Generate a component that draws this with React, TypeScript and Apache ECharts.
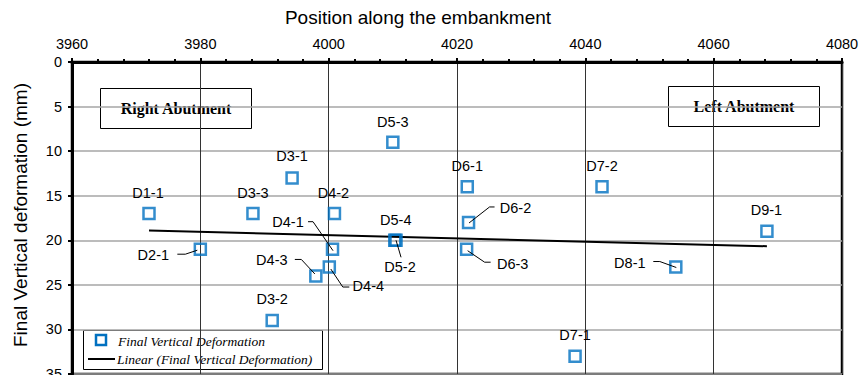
import React, { useEffect, useRef } from "react";
import * as echarts from "echarts";

// Survey points along the embankment
const pointNames = [
  "D1-1", "D2-1", "D3-3", "D3-1", "D3-2", "D4-3", "D4-4", "D4-1", "D4-2",
  "D5-3", "D5-4", "D5-2", "D6-1", "D6-2", "D6-3", "D7-1", "D7-2", "D8-1", "D9-1",
];
const positions = [
  3972, 3980, 3988.2, 3994.3, 3991.2, 3998, 4000.1, 4000.6, 4000.9,
  4010, 4010.3, 4010.5, 4021.6, 4021.8, 4021.5, 4038.4, 4042.6, 4054.1, 4068.3,
];
const deformations = [
  17, 21, 17, 13, 29, 24, 23, 21, 17,
  9, 20, 20, 14, 18, 21, 33, 14, 23, 19,
];
const xTicks = { min: 3960, max: 4080, step: 20 };
const yTicks = { min: 0, max: 35, step: 5 };

// Label placement (pixel offsets from the marker centre) and leader lines
type LabelPlacement = { dx: number; dy: number; leader?: number[][] };
const labelPlacement: Record<string, LabelPlacement> = {
  "D1-1": { dx: -1, dy: -21 },
  "D2-1": { dx: -47, dy: 6, leader: [[-23, 5], [-15, 5], [-3, 1]] },
  "D3-3": { dx: 0, dy: -21 },
  "D3-1": { dx: 0, dy: -21.5 },
  "D3-2": { dx: 0, dy: -21.5 },
  "D4-3": { dx: -44, dy: -16, leader: [[-21, -16.5], [-14.5, -16.5], [-1, -2]] },
  "D4-4": { dx: 39, dy: 19, leader: [[1.5, 2], [13.5, 20], [20, 20]] },
  "D4-1": { dx: -44.5, dy: -27, leader: [[-24.5, -27.5], [-19.5, -27.5], [0.5, 1.5]] },
  "D4-2": { dx: -1, dy: -21 },
  "D5-3": { dx: 0, dy: -20.5 },
  "D5-4": { dx: 1, dy: -20 },
  "D5-2": { dx: 4, dy: 27, leader: [[0, 0], [5, 17]] },
  "D6-1": { dx: 0, dy: -20.5 },
  "D6-2": { dx: 47, dy: -14, leader: [[0.5, 0.5], [21, -15.5], [26, -15.5]] },
  "D6-3": { dx: 46, dy: 14.5, leader: [[1, 1.5], [18, 13], [24, 13]] },
  "D7-1": { dx: 0, dy: -21.5 },
  "D7-2": { dx: 0, dy: -20.5 },
  "D8-1": { dx: -46, dy: -4, leader: [[-22.5, -5.5], [-16, -5.5], [0.5, 0.5]] },
  "D9-1": { dx: -0.5, dy: -21.5 },
};

const SANS = "'Liberation Sans', Arial, sans-serif";
const SERIF = "'Liberation Serif', 'Times New Roman', serif";
const BLUE = "#0070C0";

// Least-squares linear trend of the deformations
function linearTrend(xs: number[], ys: number[]) {
  const n = xs.length;
  const mx = xs.reduce((a, b) => a + b, 0) / n;
  const my = ys.reduce((a, b) => a + b, 0) / n;
  let sxy = 0;
  let sxx = 0;
  for (let i = 0; i < n; i++) {
    sxy += (xs[i] - mx) * (ys[i] - my);
    sxx += (xs[i] - mx) * (xs[i] - mx);
  }
  const slope = sxy / sxx;
  const x0 = Math.min(...xs);
  const x1 = Math.max(...xs);
  return [
    [x0, my + slope * (x0 - mx)],
    [x1, my + slope * (x1 - mx)],
  ];
}

export default function App() {
  const ref = useRef<HTMLDivElement>(null);

  useEffect(() => {
    if (!ref.current) return;
    const chart = echarts.init(ref.current, undefined, { renderer: "svg" });

    const points = positions.map((x, i) => [x, deformations[i]]);
    const trend = linearTrend(positions, deformations);

    const option: any = {
      animation: false,
      backgroundColor: "#fff",
      grid: {
        left: 72,
        top: 62,
        width: 770,
        height: 312,
        outerBoundsMode: "none",
        containLabel: false,
        show: true,
        borderColor: "#000",
        borderWidth: 2.5,
        backgroundColor: "transparent",
      },
      xAxis: {
        type: "value",
        position: "top",
        min: xTicks.min,
        max: xTicks.max,
        interval: xTicks.step,
        axisLine: { show: true, onZero: false, lineStyle: { color: "#000", width: 3 } },
        axisTick: { show: true, length: 4, lineStyle: { color: "#000", width: 2 } },
        minorTick: { show: true, splitNumber: 5, length: 3, lineStyle: { color: "#000", width: 2 } },
        axisLabel: {
          fontSize: 14.5,
          color: "#000",
          fontFamily: SANS,
          margin: 11,
          formatter: (v: number) => String(v),
        },
        splitLine: { show: true, lineStyle: { color: "#333", width: 1 } },
      },
      yAxis: {
        type: "value",
        inverse: true,
        min: yTicks.min,
        max: yTicks.max,
        interval: yTicks.step,
        axisLine: { show: true, onZero: false, lineStyle: { color: "#000", width: 3 } },
        axisTick: { show: true, length: 4, lineStyle: { color: "#000", width: 2 } },
        axisLabel: {
          fontSize: 14.5,
          color: "#000",
          fontFamily: SANS,
          margin: 10,
          formatter: (v: number) => String(v),
        },
        splitLine: { show: true, lineStyle: { color: "#a6a6a6", width: 1.5 } },
      },
      series: [
        {
          name: "Linear (Final Vertical Deformation)",
          type: "line",
          data: trend,
          showSymbol: false,
          lineStyle: { color: "#000", width: 2 },
          z: 3,
          silent: true,
        },
        {
          name: "Final Vertical Deformation",
          type: "scatter",
          data: points,
          symbol: "rect",
          symbolSize: 11,
          itemStyle: { color: "rgba(255,255,255,0)", borderColor: BLUE, borderWidth: 2.5 },
          z: 4,
          silent: true,
        },
        {
          name: "labels",
          type: "custom",
          data: points,
          encode: { x: 0, y: 1 },
          clip: false,
          z: 5,
          silent: true,
          renderItem: (params: any, api: any) => {
            const i = params.dataIndex;
            const name = pointNames[i];
            const place = labelPlacement[name] || { dx: 0, dy: -21 };
            const c = api.coord([api.value(0), api.value(1)]);
            const children: any[] = [
              {
                type: "text",
                x: c[0] + place.dx,
                y: c[1] + place.dy,
                style: {
                  text: name,
                  fill: "#000",
                  fontSize: 14.5,
                  fontFamily: SANS,
                  textAlign: "center",
                  textVerticalAlign: "middle",
                },
              },
            ];
            if (place.leader) {
              children.push({
                type: "polyline",
                shape: { points: place.leader.map((p) => [c[0] + p[0], c[1] + p[1]]) },
                style: { stroke: "#000", lineWidth: 1, fill: null },
              });
            }
            return { type: "group", children };
          },
        },
      ],
      graphic: [
        // Axis titles
        {
          type: "text",
          x: 418,
          y: 17,
          style: {
            text: "Position along the embankment",
            fontSize: 19,
            fontFamily: SANS,
            fill: "#000",
            textAlign: "center",
            textVerticalAlign: "middle",
          },
        },
        {
          type: "text",
          x: 20,
          y: 215,
          rotation: Math.PI / 2,
          style: {
            text: "Final Vertical deformation (mm)",
            fontSize: 19,
            fontFamily: SANS,
            fill: "#000",
            textAlign: "center",
            textVerticalAlign: "middle",
          },
        },
        // Abutment boxes
        {
          type: "group",
          z: 10,
          children: [
            {
              type: "rect",
              shape: { x: 100.5, y: 88.5, width: 151, height: 40 },
              style: { fill: "#fff", stroke: "#000", lineWidth: 1 },
            },
            {
              type: "text",
              x: 176,
              y: 108.5,
              style: {
                text: "Right Abutment",
                fontSize: 16,
                fontWeight: "bold",
                fontFamily: SERIF,
                fill: "#000",
                textAlign: "center",
                textVerticalAlign: "middle",
              },
            },
            {
              type: "rect",
              shape: { x: 668.5, y: 86.5, width: 151, height: 40 },
              style: { fill: "#fff", stroke: "#000", lineWidth: 1 },
            },
            {
              type: "text",
              x: 744,
              y: 106.5,
              style: {
                text: "Left Abutment",
                fontSize: 16,
                fontWeight: "bold",
                fontFamily: SERIF,
                fill: "#000",
                textAlign: "center",
                textVerticalAlign: "middle",
              },
            },
          ],
        },
        // Legend
        {
          type: "group",
          z: 10,
          children: [
            {
              type: "rect",
              shape: { x: 83.5, y: 330.5, width: 239, height: 39 },
              style: { fill: "#fff", stroke: "#000", lineWidth: 1 },
            },
            {
              type: "rect",
              shape: { x: 96, y: 335, width: 10, height: 10 },
              style: { fill: "none", stroke: BLUE, lineWidth: 2.5 },
            },
            {
              type: "text",
              x: 118,
              y: 341,
              style: {
                text: "Final Vertical Deformation",
                fontSize: 13.5,
                fontStyle: "italic",
                fontFamily: SERIF,
                fill: "#000",
                textAlign: "left",
                textVerticalAlign: "middle",
              },
            },
            {
              type: "line",
              shape: { x1: 88, y1: 359, x2: 115, y2: 359 },
              style: { stroke: "#000", lineWidth: 2 },
            },
            {
              type: "text",
              x: 117,
              y: 359,
              style: {
                text: "Linear (Final Vertical Deformation)",
                fontSize: 13.5,
                fontStyle: "italic",
                fontFamily: SERIF,
                fill: "#000",
                textAlign: "left",
                textVerticalAlign: "middle",
              },
            },
          ],
        },
      ],
    };

    chart.setOption(option);
    return () => chart.dispose();
  }, []);

  return (
    <div
      ref={ref}
      style={{ position: "fixed", left: 0, top: 0, width: 859, height: 375 }}
    />
  );
}
